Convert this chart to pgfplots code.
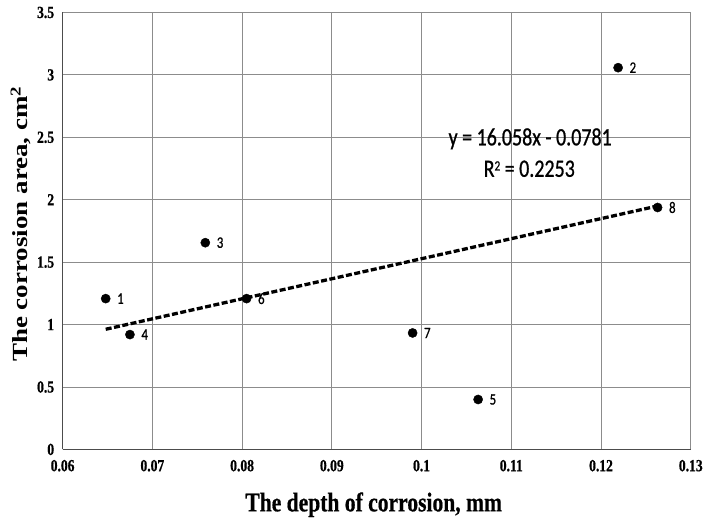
\documentclass[border=0pt]{standalone}
\usepackage{fontspec}
\setmainfont{Liberation Serif}
\newfontfamily\narrowserif[FakeStretch=0.8,FakeBold=0.6]{Liberation Serif}
\newfontfamily\narrowsans[FakeStretch=0.8]{Carlito}
\newfontfamily\heavysans[FakeStretch=0.8,FakeBold=0.8]{Carlito}
\usepackage{graphicx}
\usepackage{pgfplots}
\pgfplotsset{compat=1.18}

% depth of corrosion (mm), corrosion area (cm^2), specimen number
\pgfplotstableread{
x      y      lab
0.0648 1.208  1
0.1219 3.058  2
0.0759 1.656  3
0.0675 0.920  4
0.1063 0.400  5
0.0805 1.208  6
0.0990 0.933  7
0.1263 1.938  8
}\corrosion

\begin{document}
\begin{tikzpicture}
\begin{axis}[
  scale only axis,
  width=629pt, height=437.5pt,
  xmin=0.06, xmax=0.13, ymin=0, ymax=3.5,
  xtick={0.06,0.07,...,0.13},
  ytick={0,0.5,...,3.5},
  xticklabels={0.06,0.07,0.08,0.09,0.1,0.11,0.12,0.13},
  yticklabels={0,0.5,1,1.5,2,2.5,3,3.5},
  major tick length=0pt,
  grid=major,
  grid style={draw=black!45, line width=0.9pt},
  axis x line*=bottom, axis y line*=left,
  axis line style={draw=black!70, line width=1.3pt},
  /pgf/number format/assume math mode=true,
  tick label style={font=\fontsize{17}{19}\selectfont\bfseries\narrowserif},
  yticklabel style={xshift=-5pt},
  xticklabel style={yshift=-7pt},
  xlabel={The depth of corrosion, mm},
  ylabel={\scalebox{1}[0.8]{The corrosion area, cm\textsuperscript{2}}},
  xlabel style={at={(axis description cs:0.4952,-0.1417)}, anchor=base,
    font=\fontsize{27}{30}\selectfont\bfseries\narrowserif},
  ylabel style={at={(axis description cs:-0.0552,0.516)}, anchor=base, rotate=0,
    font=\fontsize{27}{30}\selectfont\bfseries},
  clip=false,
]
% page frame around plot area, labels and tick labels
\path (axis description cs:-0.0997,-0.1577) rectangle (axis description cs:1.0227,1.0286);
% linear trend line y = 16.058x - 0.0781 over the data range
\addplot[black, line width=3.3pt, dash pattern=on 6pt off 2.5pt] coordinates {
  (0.0648,0.9625) (0.1263,1.9500)
};
\addplot[only marks, mark=*, mark size=4.6pt, black,
  point meta=explicit symbolic,
  nodes near coords,
  every node near coord/.style={anchor=west, xshift=8pt, yshift=0pt,
    font=\fontsize{16}{18}\selectfont\heavysans, text=black}]
  table[x=x, y=y, meta=lab] {\corrosion};
\node[font=\fontsize{25}{28}\selectfont\heavysans] at (axis cs:0.1121,2.488)
  {y = 16.058x - 0.0781};
\node[font=\fontsize{25}{28}\selectfont\heavysans] at (axis cs:0.1120,2.248)
  {R{\fontsize{14}{14}\selectfont\raisebox{0.95ex}{2}} = 0.2253};
\end{axis}
\end{tikzpicture}
\end{document}
